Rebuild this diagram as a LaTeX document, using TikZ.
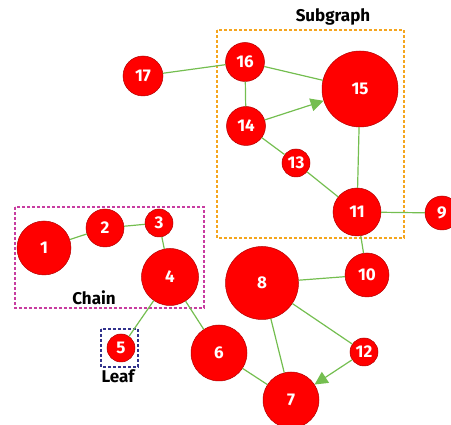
\documentclass[tikz,border=0pt]{standalone}
\usepackage{fontspec}
\setmainfont{Fira Sans}
\usetikzlibrary{arrows.meta}
\definecolor{edgegreen}{RGB}{116,190,80}
\definecolor{boxorange}{RGB}{245,165,30}
\definecolor{boxmagenta}{RGB}{200,60,160}
\definecolor{boxnavy}{RGB}{50,50,140}
\begin{document}
\begin{tikzpicture}[x=1pt,y=-1pt,
  vertex/.style={circle, fill=red, draw=red!70!black, line width=0.5pt,
    inner sep=0pt, minimum size=#1, text=white, font=\fontsize{17}{17}\selectfont\bfseries},
  link/.style={draw=edgegreen, line width=1.2pt},
  directed/.style={link, -{Triangle[length=13pt,width=13pt]}},
  groupbox/.style={line width=1.3pt, dash pattern=on 3pt off 2pt},
  caption/.style={font=\fontsize{17}{17}\selectfont\bfseries, text=black}]
\useasboundingbox (0,0) rectangle (451,425);

% group frames
\draw[groupbox, boxorange] (217,30) rectangle (404,238);
\draw[groupbox, boxmagenta] (15,207) rectangle (204,308);
\draw[groupbox, boxnavy] (101,329) rectangle (138,367);
\node[caption] (subcap) at (333,17) {Subgraph};
\node[caption] (chaincap) at (94,298) {Chain};
\node[caption] (leafcap) at (118,376) {Leaf};

% vertices
\node[vertex=54pt] (n1) at (44,248) {1};
\node[vertex=38pt] (n2) at (105,228) {2};
\node[vertex=28pt] (n3) at (159,223) {3};
\node[vertex=57pt] (n4) at (170,277) {4};
\node[vertex=28pt] (n5) at (121,348) {5};
\node[vertex=56pt] (n6) at (219,353) {6};
\node[vertex=56pt] (n7) at (291,400) {7};
\node[vertex=73pt] (n8) at (262,283) {8};
\node[vertex=34pt] (n9) at (442,213) {9};
\node[vertex=44pt] (n10) at (367,275) {10};
\node[vertex=48pt] (n11) at (357,212) {11};
\node[vertex=28pt] (n12) at (364,352) {12};
\node[vertex=28pt] (n13) at (296,163) {13};
\node[vertex=39pt] (n14) at (246,126) {14};
\node[vertex=76pt] (n15) at (360,89) {15};
\node[vertex=39pt] (n16) at (245,62) {16};
\node[vertex=40pt] (n17) at (143,76) {17};

% connections
\draw[link] (n1) -- (n2);
\draw[link] (n2) -- (n3);
\draw[link] (n3) -- (n4);
\draw[link] (n4) -- (n5);
\draw[link] (n4) -- (n6);
\draw[link] (n6) -- (n7);
\draw[link] (n8) -- (n7);
\draw[link] (n8) -- (n12);
\draw[directed] (n12) -- (n7);
\draw[link] (n8) -- (n10);
\draw[link] (n10) -- (n11);
\draw[link] (n11) -- (n9);
\draw[link] (n11) -- (n15);
\draw[link] (n11) -- (n13);
\draw[link] (n13) -- (n14);
\draw[directed] (n14) -- (n15);
\draw[link] (n14) -- (n16);
\draw[link] (n16) -- (n15);
\draw[link] (n17) -- (n16);
\end{tikzpicture}
\end{document}
